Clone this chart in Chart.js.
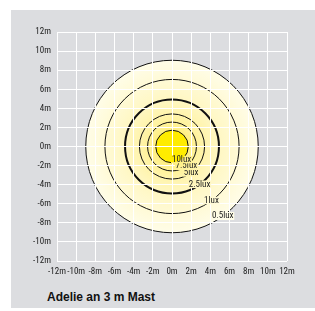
<!DOCTYPE html>
<html>
<head>
<meta charset="utf-8">
<script src="https://cdn.jsdelivr.net/npm/chart.js@4.4.0/dist/chart.umd.min.js"></script>
<style>
    body { margin: 0; background: #fff; }
    .panel { position: absolute; left: 11px; top: 10px; width: 304px; height: 298px; background: #dcdde0; }
    #myChart { position: absolute; left: 0; top: 0; }
    .title { position: absolute; left: 36px; top: 280px; font: bold 12px "Liberation Sans", Arial, sans-serif; color: #111; line-height: 14px; }
</style>
</head>
<body>
<div class="panel">
    <canvas id="myChart" width="304" height="280"></canvas>
    <div class="title">Adelie an 3 m Mast</div>
</div>
<script>
// isolux rings, outermost first
let luxLabels = ['0.5lux', '1lux', '2.5lux', '5lux', '7.5lux', '10lux'];
let radii = [9, 7, 4.9, 3.4, 2.55, 1.7];
let tickValues = [-12, -10, -8, -6, -4, -2, 0, 2, 4, 6, 8, 10, 12];

let lineWidths = [1, 1, 2, 1, 1, 1];
let labelAngle = -54 * Math.PI / 180;
let coreYellow = '#ffec00';
let tickFont = { family: "'Roboto Condensed', 'Liberation Sans', sans-serif", size: 9 };

function makeGradient(chart) {
    const xs = chart.scales.x, ys = chart.scales.y;
    const cx = xs.getPixelForValue(0), cy = ys.getPixelForValue(0);
    const r = xs.getPixelForValue(radii[0]) - cx;
    const g = chart.ctx.createRadialGradient(cx, cy, 0, cx, cy, r);
    g.addColorStop(0, '#ffee22');
    g.addColorStop(0.19, '#ffef80');
    g.addColorStop(0.28, '#fff29a');
    g.addColorStop(0.38, '#fff4ad');
    g.addColorStop(0.54, '#fff7c2');
    g.addColorStop(0.78, '#fffad6');
    g.addColorStop(1, '#fffde8');
    return g;
}

function ringFill(context) {
    const chart = context.chart;
    if (!chart.chartArea) return 'rgba(0,0,0,0)';
    if (context.dataIndex === 0) return makeGradient(chart);
    if (context.dataIndex === radii.length - 1) return coreYellow;
    return 'rgba(0,0,0,0)';
}

function ringRadius(context) {
    const xs = context.chart.scales.x;
    if (!context.chart.chartArea || !context.raw) return 0;
    return xs.getPixelForValue(context.raw.d) - xs.getPixelForValue(0);
}

// lux labels sit in a gap cut into each ring
const ringLabels = {
    id: 'ringLabels',
    afterDraw(chart) {
        const ctx = chart.ctx;
        const xs = chart.scales.x, ys = chart.scales.y;
        const cx = xs.getPixelForValue(0), cy = ys.getPixelForValue(0);
        const coreR = xs.getPixelForValue(radii[radii.length - 1]) - cx;
        const g = makeGradient(chart);
        ctx.save();
        ctx.font = "9px 'Roboto Condensed', 'Liberation Sans', sans-serif";
        ctx.textAlign = 'center';
        ctx.textBaseline = 'middle';
        luxLabels.forEach((label, i) => {
            const px = xs.getPixelForValue(radii[i] * Math.cos(labelAngle));
            const py = ys.getPixelForValue(radii[i] * Math.sin(labelAngle));
            const w = ctx.measureText(label).width;
            ctx.save();
            ctx.beginPath();
            ctx.rect(px - w / 2 - 1, py - 4, w + 2, 8);
            ctx.clip();
            ctx.fillStyle = g;
            ctx.fillRect(px - w / 2 - 1, py - 4, w + 2, 8);
            ctx.fillStyle = coreYellow;
            ctx.beginPath();
            ctx.arc(cx, cy, coreR - 0.5, 0, Math.PI * 2);
            ctx.fill();
            ctx.restore();
            ctx.fillStyle = '#222';
            ctx.fillText(label, px, py);
        });
        ctx.restore();
    }
};

const data = {
    datasets: [{
        data: radii.map(r => ({ x: 0, y: 0, d: r })),
        parsing: false,
        radius: ringRadius,
        hoverRadius: 0,
        backgroundColor: ringFill,
        borderColor: '#111',
        borderWidth: lineWidths,
        clip: false
    }]
};

const config = {
    type: 'bubble',
    data,
    options: {
        responsive: false,
        animation: false,
        devicePixelRatio: 1,
        events: [],
        layout: { padding: { left: 0, top: 22, right: 28, bottom: 0 } },
        plugins: { legend: { display: false }, tooltip: { enabled: false } },
        scales: {
            x: {
                type: 'linear',
                min: -12,
                max: 12,
                afterBuildTicks: s => { s.ticks = tickValues.map(v => ({ value: v })); },
                afterFit: s => { s.height = 29; },
                ticks: { callback: v => v + 'm', font: tickFont, color: '#222', padding: 5, maxRotation: 0, autoSkip: false },
                grid: { color: '#fff', lineWidth: 1, drawTicks: false, z: 1 },
                border: { display: false }
            },
            y: {
                type: 'linear',
                min: -12,
                max: 12,
                afterBuildTicks: s => { s.ticks = tickValues.map(v => ({ value: v })); },
                afterFit: s => { s.width = 46; },
                ticks: { callback: v => v + 'm', font: tickFont, color: '#222', padding: 6, autoSkip: false },
                grid: { color: '#fff', lineWidth: 1, drawTicks: false, z: 1 },
                border: { display: false }
            }
        }
    },
    plugins: [ringLabels]
};

const myChart = new Chart(document.getElementById('myChart'), config);
</script>
</body>
</html>
